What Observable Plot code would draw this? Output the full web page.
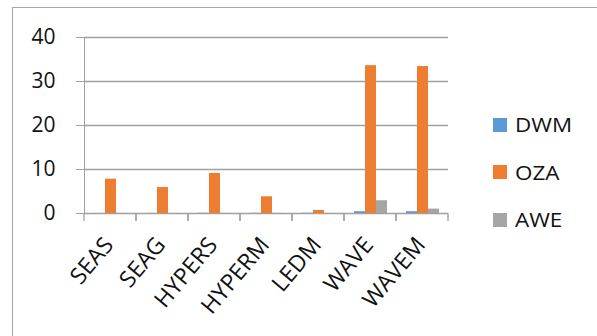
<!DOCTYPE html>
<html>
<head>
<meta charset="utf-8">
<script src="https://cdn.jsdelivr.net/npm/d3@7"></script>
<script src="https://cdn.jsdelivr.net/npm/@observablehq/plot@0.6"></script>
<style>
  html, body { margin: 0; padding: 0; overflow: hidden; background: #fff; font-family: "Open Sans", sans-serif; }
  #wrap { position: relative; width: 597px; height: 336px; overflow: hidden; background: #fff; }
  #box { position: absolute; left: 12px; top: 7px; width: 700px; height: 400px; border: 1px solid #a6a6a6; }
  #chart { position: absolute; left: 0; top: 0; }
  #chart svg { color: #a0a0a0; background: transparent; overflow: visible; }
  #chart svg text { fill: #111; }
  #legend { position: absolute; left: 493px; top: 101px; font-size: 20px; color: #111; }
  #legend .item { display: flex; align-items: center; height: 47.5px; }
  #legend .sw { width: 14px; height: 14px; margin-right: 8px; }
  #legend .name { display: inline-block; transform: scaleX(1.12); transform-origin: left center; }
</style>
</head>
<body>
<div id="wrap">
  <div id="box"></div>
  <div id="chart"></div>
  <div id="legend"></div>
</div>
<script>
// Categories and series values
const categories = ["SEAS", "SEAG", "HYPERS", "HYPERM", "LEDM", "WAVE", "WAVEM"];
const seriesNames = ["DWM", "OZA", "AWE"];
const dwm = [0.02, 0.02, 0.05, 0.05, 0.05, 0.4, 0.4];
const oza = [7.8, 5.9, 9.1, 3.8, 0.7, 33.6, 33.4];
const awe = [0.02, 0.02, 0.02, 0.02, 0.02, 2.9, 1.0];
const yTicks = [0, 10, 20, 30, 40];
const seriesColors = ["#5B9BD5", "#ED7D31", "#A5A5A5"];

const valuesBySeries = {DWM: dwm, OZA: oza, AWE: awe};
const rows = categories.flatMap((category, i) =>
  seriesNames.map(series => ({category, series, value: valuesBySeries[series][i]}))
);

// Short ticks marking the edges of each category band below the baseline
function bandEdges(index, scales, values, dims) {
  const y0 = scales.y(0);
  const g = d3.create("svg:g").attr("stroke", "#a0a0a0").attr("stroke-width", 1.3);
  for (const x of [dims.marginLeft, dims.width - dims.marginRight]) {
    g.append("line").attr("x1", x).attr("x2", x).attr("y1", y0).attr("y2", y0 + 8);
  }
  return g.node();
}

const chart = Plot.plot({
  width: 470,
  height: 336,
  marginLeft: 81,
  marginRight: 19,
  marginTop: 37,
  marginBottom: 123,
  style: {fontFamily: "Open Sans, sans-serif", fontSize: "21px", background: "transparent"},
  fx: {domain: categories, padding: 0, axis: null, label: null},
  x: {domain: seriesNames, paddingInner: 0, paddingOuter: 0.75, axis: null},
  y: {domain: [0, 40], ticks: yTicks, tickSize: 8, tickPadding: 21, label: null, line: true},
  color: {domain: seriesNames, range: seriesColors},
  marks: [
    Plot.ruleY(yTicks, {stroke: "#a0a0a0", strokeWidth: 1.3}),
    Plot.barY(rows, {fx: "category", x: "series", y: "value", fill: "series"}),
    bandEdges,
    // Category names, slanted under each group
    Plot.text(categories, {
      fx: d => d,
      text: d => d,
      frameAnchor: "bottom",
      rotate: -50,
      textAnchor: "end",
      lineAnchor: "bottom",
      fontSize: 23,
      fill: "#111",
      dx: 4,
      dy: 32
    })
  ]
});
document.getElementById("chart").append(chart);

// Legend
const legend = d3.select("#legend");
seriesNames.forEach((name, i) => {
  const item = legend.append("div").attr("class", "item");
  item.append("div").attr("class", "sw").style("background", seriesColors[i]);
  item.append("span").attr("class", "name").text(name);
});
</script>
</body>
</html>
